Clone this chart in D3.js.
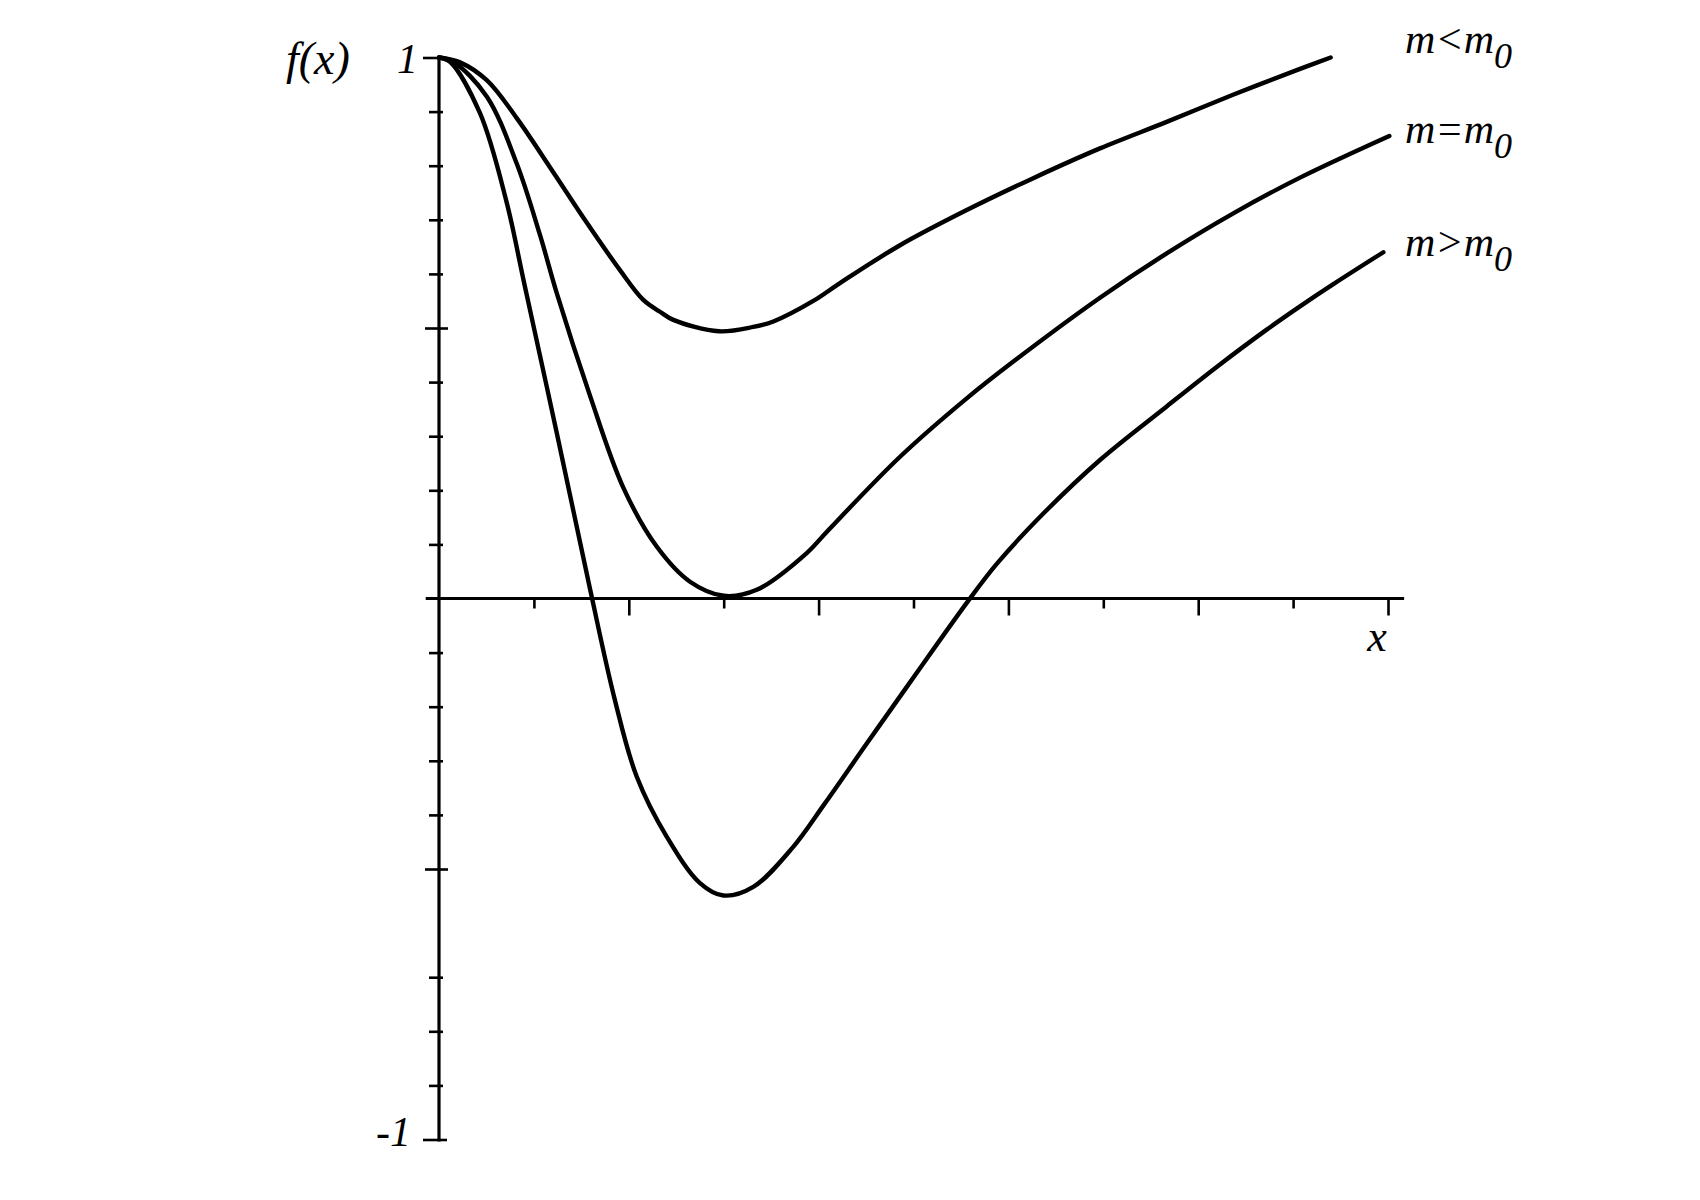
<!DOCTYPE html>
<html>
<head>
	<meta charset="utf-8">
	<script src="https://d3js.org/d3.v7.min.js"></script>
	<title>f(x) for three values of m</title>
	<style>
		body { margin: 0; background: #fff; }
		text, tspan { font-family: "Liberation Serif", "Times New Roman", serif; font-style: italic; fill: #000; }
	</style>
</head>
<body>
<script>

	/*------ data (x in tick units, y in [-1, 1]) ------*/

	var curveBelow = [ // m < m0
		[0, 1], [0.221, 0.991], [0.503, 0.958], [0.819, 0.888], [1.204, 0.788], [1.556, 0.695],
		[1.907, 0.607], [2.153, 0.552], [2.329, 0.530], [2.469, 0.515], [2.95, 0.494],
		[3.312, 0.502], [3.523, 0.512], [3.944, 0.550], [4.225, 0.583], [4.858, 0.653],
		[5.561, 0.718], [6.262, 0.777], [6.965, 0.832], [7.668, 0.881], [8.367, 0.931],
		[9.073, 0.979], [9.396, 1.0]
	];

	var curveEqual = [ // m = m0
		[0, 1], [0.151, 0.992], [0.503, 0.928], [0.819, 0.804], [1.064, 0.672], [1.240, 0.565],
		[1.591, 0.375], [1.942, 0.205], [2.294, 0.096], [2.645, 0.031], [3.0, 0.005],
		[3.348, 0.016], [3.875, 0.084], [4.09, 0.124], [4.858, 0.262], [5.561, 0.370],
		[6.052, 0.438], [6.965, 0.556], [7.668, 0.638], [8.370, 0.712], [9.073, 0.778],
		[10.014, 0.855]
	];

	var curveAbove = [ // m > m0
		[0, 1], [0.116, 0.992], [0.432, 0.897], [0.709, 0.735], [0.9, 0.581], [1.24, 0.307],
		[1.591, 0.018], [1.851, -0.186], [2.083, -0.329], [2.399, -0.440], [2.750, -0.526],
		[2.996, -0.549], [3.312, -0.533], [3.733, -0.459], [4.057, -0.381], [4.5, -0.270],
		[4.963, -0.155], [5.561, -0.008], [5.877, 0.064], [6.368, 0.157], [6.965, 0.256],
		[7.668, 0.355], [8.195, 0.428], [8.722, 0.497], [9.073, 0.540], [9.424, 0.581],
		[9.951, 0.640]
	];

	var curveLabels = ['m<m', 'm=m', 'm>m'];
	var xTicksLong = [2, 4, 6, 8, 10];
	var xTicksShort = [1, 3, 5, 7, 9];
	var yTicksMinor = [0.9, 0.8, 0.7, 0.6, 0.4, 0.3, 0.2, 0.1, -0.1, -0.2, -0.3, -0.4, -0.7, -0.8, -0.9];
	var yTicksMajor = [0.5, -0.5];
	var yTicksEnd = [1, -1];
	var yTickLabels = ['1', '-1'];

	/*----- drawing -----*/

	var svgWidth = 1700;
	var svgHeight = 1200;

	var svg = d3.select('body')
			.append('svg')
			.attr('width', svgWidth)
			.attr('height', svgHeight);

	var xScale = d3.scaleLinear().domain([0, 10]).range([439, 1388]);
	var yScale = d3.scaleLinear().domain([-1, 1]).range([1139.5, 57.5]);

	// axis lines
	svg.append('line')
		.attr('x1', xScale(-0.14)).attr('x2', xScale(10.17))
		.attr('y1', yScale(0)).attr('y2', yScale(0))
		.attr('stroke', '#000').attr('stroke-width', 3.2);

	svg.append('line')
		.attr('x1', xScale(0)).attr('x2', xScale(0))
		.attr('y1', yScale(1)).attr('y2', yScale(-1) + 2)
		.attr('stroke', '#000').attr('stroke-width', 3.2);

	// x ticks, two lengths
	function xTicks(values, size) {
		var g = svg.append('g')
			.attr('transform', 'translate(0,' + yScale(0) + ')')
			.call(d3.axisBottom(xScale).tickValues(values).tickSize(size).tickFormat(''));
		g.select('.domain').remove();
		g.selectAll('line').attr('stroke', '#000').attr('stroke-width', 2.6);
	}
	xTicks(xTicksLong, 17);
	xTicks(xTicksShort, 10);

	// y ticks, drawn across the axis
	function yTicks(values, left, right) {
		var g = svg.append('g')
			.attr('transform', 'translate(' + xScale(0) + ',0)')
			.call(d3.axisLeft(yScale).tickValues(values).tickSize(left).tickFormat(''));
		g.select('.domain').remove();
		g.selectAll('line').attr('x1', right).attr('stroke', '#000').attr('stroke-width', 2.6);
	}
	yTicks(yTicksMinor, 10, 4);
	yTicks(yTicksMajor, 14, 9);
	yTicks([yTicksEnd[0]], 16, 0);
	yTicks([yTicksEnd[1]], 16, 8);

	// curves
	var line = d3.line()
		.x(function (d) { return xScale(d[0]); })
		.y(function (d) { return yScale(d[1]); })
		.curve(d3.curveCatmullRom.alpha(0.5));

	var curves = [curveBelow, curveEqual, curveAbove];
	svg.selectAll('path.curve')
		.data(curves)
		.enter()
		.append('path')
		.attr('class', 'curve')
		.attr('d', line)
		.attr('fill', 'none')
		.attr('stroke', '#000')
		.attr('stroke-width', 4.4)
		.attr('stroke-linecap', 'round')
		.attr('stroke-linejoin', 'round');

	// curve labels
	var labelBase = [53, 143, 256];
	var labels = svg.selectAll('text.curve-label')
		.data(curveLabels)
		.enter()
		.append('text')
		.attr('class', 'curve-label')
		.attr('x', 1405)
		.attr('y', function (d, i) { return labelBase[i]; })
		.attr('font-size', 42);
	labels.append('tspan').text(function (d) { return d; });
	labels.append('tspan')
		.attr('dy', 15)
		.attr('font-size', 36)
		.text('0');

	// axis labels
	svg.append('text')
		.attr('x', 286).attr('y', 74)
		.attr('font-size', 46)
		.text('f(x)');

	svg.append('text')
		.attr('x', 1377).attr('y', 651)
		.attr('text-anchor', 'middle')
		.attr('font-size', 44)
		.text('x');

	svg.selectAll('text.ylab')
		.data(yTicksEnd)
		.enter()
		.append('text')
		.attr('class', 'ylab')
		.attr('x', function (d, i) { return i === 0 ? 418 : 411; })
		.attr('y', function (d, i) { return i === 0 ? 73 : 1146; })
		.attr('text-anchor', 'end')
		.attr('font-size', 42)
		.text(function (d, i) { return yTickLabels[i]; });

</script>
</body>
</html>
